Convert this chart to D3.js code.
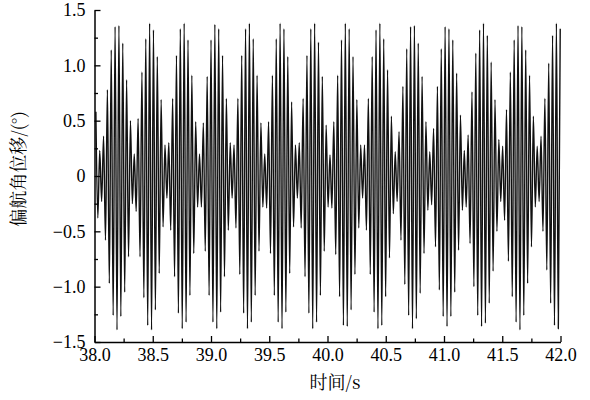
<!DOCTYPE html>
<html>
<head>
<meta charset="utf-8">
<script src="https://cdn.jsdelivr.net/npm/d3@7"></script>
<style>
  html, body { margin: 0; padding: 0; background: #fff; }
  svg { display: block; }
  .axis path, .axis line { stroke: #000; }
</style>
</head>
<body>
<svg id="chart" width="590" height="400"></svg>
<script>
// ---- data ----
// successive local extrema (peak, trough, peak, ...) of the yaw displacement signal, in degrees
const yawPeaks = [
  0.58,-0.38,0.23,-0.23,0.36,-0.58,0.78,-0.97,1.14,-1.26,
  1.35,-1.39,1.36,-1.27,1.20,-1.05,0.87,-0.73,0.50,-0.25,
  0.20,-0.32,0.52,-0.73,0.94,-1.10,1.24,-1.35,1.38,-1.39,
  1.32,-1.21,1.08,-0.88,0.69,-0.46,0.28,-0.20,0.30,-0.49,
  0.70,-0.91,1.09,-1.24,1.33,-1.38,1.38,-1.32,1.23,-1.08,
  0.91,-0.70,0.49,-0.28,0.20,-0.28,0.48,-0.68,0.90,-1.08,
  1.23,-1.32,1.37,-1.38,1.33,-1.23,1.09,-0.91,0.70,-0.49,
  0.30,-0.20,0.28,-0.47,0.70,-0.89,1.09,-1.24,1.33,-1.38,
  1.38,-1.32,1.24,-1.08,0.91,-0.68,0.48,-0.28,0.20,-0.29,
  0.49,-0.70,0.91,-1.08,1.24,-1.32,1.38,-1.38,1.33,-1.23,
  1.08,-0.88,0.67,-0.46,0.28,-0.20,0.30,-0.47,0.70,-0.91,
  1.09,-1.24,1.33,-1.38,1.38,-1.32,1.21,-1.08,0.90,-0.68,
  0.46,-0.28,0.19,-0.29,0.49,-0.71,0.91,-1.09,1.23,-1.35,
  1.38,-1.36,1.33,-1.21,1.08,-0.89,0.69,-0.47,0.28,-0.20,
  0.28,-0.49,0.70,-0.89,1.08,-1.23,1.32,-1.38,1.38,-1.35,
  1.24,-1.09,0.96,-0.74,0.54,-0.34,0.22,-0.23,0.40,-0.58,
  0.81,-0.98,1.15,-1.26,1.35,-1.38,1.36,-1.29,1.20,-1.06,
  0.90,-0.70,0.49,-0.31,0.22,-0.26,0.43,-0.64,0.81,-1.03,
  1.15,-1.27,1.35,-1.36,1.33,-1.27,1.23,-1.05,0.93,-0.67,
  0.55,-0.31,0.23,-0.28,0.37,-0.61,0.76,-1.00,1.11,-1.26,
  1.32,-1.36,1.38,-1.33,1.27,-1.15,1.03,-0.86,0.69,-0.50,
  0.33,-0.23,0.27,-0.40,0.60,-0.77,0.94,-1.09,1.23,-1.32,
  1.36,-1.39,1.35,-1.26,1.14,-0.97,0.91,-0.64,0.54,-0.28,
  0.27,-0.23,0.36,-0.50,0.70,-0.85,1.02,-1.15,1.27,-1.35,
  1.38,-1.38,1.33
];
const peakStartTime = 38.012;   // s, time of first extremum
const peakInterval = 0.01647;   // s, half carrier period between extrema

const xDomain = [38.0, 42.0];
const yDomain = [-1.5, 1.5];
const xMajorTicks = [38.0, 38.5, 39.0, 39.5, 40.0, 40.5, 41.0, 41.5, 42.0];
const xMinorTicks = [38.25, 38.75, 39.25, 39.75, 40.25, 40.75, 41.25, 41.75];
const yMajorTicks = [-1.5, -1.0, -0.5, 0, 0.5, 1.0, 1.5];
const yMinorTicks = [-1.25, -0.75, -0.25, 0.25, 0.75, 1.25];
const xTitle = "时间/s";
const yTitle = "偏航角位移/(°)";

// ---- drawing ----
const serif = '"Liberation Serif", "Times New Roman", serif';
const cjk = '"Noto Serif CJK SC", "Noto Sans CJK SC", serif';
const svg = d3.select("#chart");
const x = d3.scaleLinear().domain(xDomain).range([94.5, 560.5]);
const y = d3.scaleLinear().domain(yDomain).range([342, 10]);

const series = yawPeaks.map((v, i) => ({ t: peakStartTime + i * peakInterval, v }));

const line = d3.line()
  .x(d => x(d.t))
  .y(d => y(d.v))
  .curve(d3.curveMonotoneX);

svg.append("path")
  .datum(series)
  .attr("d", line)
  .attr("fill", "none")
  .attr("stroke", "#111")
  .attr("stroke-width", 1.4)
  .attr("stroke-linejoin", "round");

const fmt = d3.format(".1f");
const yFmt = v => v === 0 ? "0" : fmt(v);

function styleAxis(g) {
  g.selectAll(".tick text")
    .style("font-family", serif)
    .style("font-size", "18px")
    .style("fill", "#000");
  g.selectAll(".tick line").attr("stroke-width", 1.3);
}

// bottom axis
const gx = svg.append("g").attr("class", "axis").attr("transform", "translate(0,342)");
gx.call(d3.axisBottom(x).tickValues(xMajorTicks).tickFormat(fmt).tickSizeInner(-6).tickSizeOuter(0).tickPadding(6));
gx.select(".domain").attr("stroke-width", 1.5);
styleAxis(gx);
const gxm = svg.append("g").attr("class", "axis").attr("transform", "translate(0,342)");
gxm.call(d3.axisBottom(x).tickValues(xMinorTicks).tickFormat("").tickSizeInner(-3.5).tickSizeOuter(0));
gxm.select(".domain").remove();
styleAxis(gxm);

// left axis
const gy = svg.append("g").attr("class", "axis").attr("transform", "translate(94.5,0)");
gy.call(d3.axisLeft(y).tickValues(yMajorTicks).tickFormat(yFmt).tickSizeInner(-6).tickSizeOuter(0).tickPadding(9));
gy.select(".domain").attr("stroke-width", 1.5);
styleAxis(gy);
const gym = svg.append("g").attr("class", "axis").attr("transform", "translate(94.5,0)");
gym.call(d3.axisLeft(y).tickValues(yMinorTicks).tickFormat("").tickSizeInner(-3.5).tickSizeOuter(0));
gym.select(".domain").remove();
styleAxis(gym);

// titles
svg.append("text")
  .attr("x", 335).attr("y", 389)
  .attr("text-anchor", "middle")
  .style("font-family", cjk)
  .style("font-size", "18px")
  .style("fill", "#000")
  .text(xTitle);

svg.append("text")
  .attr("transform", "translate(25,169) rotate(-90)")
  .attr("text-anchor", "middle")
  .style("font-family", cjk)
  .style("font-size", "18px")
  .style("fill", "#000")
  .text(yTitle);
</script>
</body>
</html>
